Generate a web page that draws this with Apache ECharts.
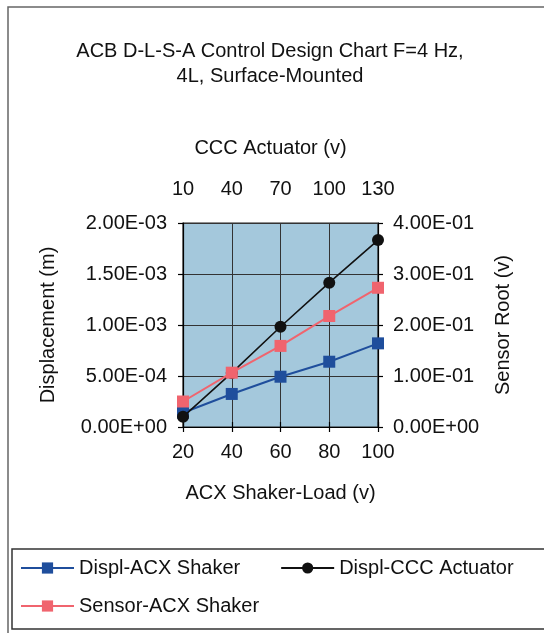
<!DOCTYPE html>
<html>
<head>
<meta charset="utf-8">
<script src="https://cdn.jsdelivr.net/npm/echarts@6/dist/echarts.min.js"></script>
<style>
html,body{margin:0;padding:0;background:#fff;}
#chart{width:544px;height:633px;}
</style>
</head>
<body>
<div id="chart"></div>
<script>
// Data
const acxVolts = [20, 40, 60, 80, 100];
const cccVolts = [10, 40, 70, 100, 130];
const displAcx = [1.4e-4, 3.24e-4, 4.93e-4, 6.4e-4, 8.2e-4];
const displCcc = [1.0e-4, 5.3e-4, 9.83e-4, 1.415e-3, 1.833e-3];
const sensorAcx = [0.05, 0.1065, 0.159, 0.2176, 0.273];
const seriesNames = ['Displ-ACX Shaker', 'Displ-CCC Actuator', 'Sensor-ACX Shaker'];

const FONT = 'Liberation Sans, Arial, sans-serif';
const FS = 20;

function sci(v) {
  const s = Number(v).toExponential(2);
  const parts = s.split('e');
  const m = parts[0];
  let e = parseInt(parts[1], 10);
  const sign = e < 0 ? '-' : '+';
  e = Math.abs(e);
  return m + 'E' + sign + (e < 10 ? '0' + e : '' + e);
}

const chart = echarts.init(document.getElementById('chart'), null, {renderer: 'canvas'});

const axisCommon = {
  axisLine: {show: true, lineStyle: {color: '#000', width: 1.2}},
  axisTick: {show: true, inside: false, length: 5, lineStyle: {color: '#000', width: 1.2}},
  axisLabel: {color: '#111', fontSize: FS, fontFamily: FONT},
  nameTextStyle: {color: '#111', fontSize: FS, fontFamily: FONT},
  nameLocation: 'middle'
};

const option = {
  animation: false,
  backgroundColor: '#fff',
  title: {
    text: 'ACB D-L-S-A Control Design Chart F=4 Hz,\n4L, Surface-Mounted',
    left: 265, top: 34, textAlign: 'center',
    textStyle: {fontSize: FS, fontWeight: 'normal', color: '#111', fontFamily: FONT, lineHeight: 25}
  },
  grid: {
    left: 183, top: 223, width: 195, height: 204,
    show: true, backgroundColor: '#a4c8dc', borderColor: '#222', borderWidth: 1.2
  },
  legend: [
    {
      data: [seriesNames[0], seriesNames[1]],
      left: 20, top: 558, padding: 0, itemWidth: 53, itemHeight: 14, itemGap: 40,
      textStyle: {fontSize: FS, fontFamily: FONT, color: '#111'}
    },
    {
      data: [seriesNames[2]],
      left: 20, top: 596, padding: 0, itemWidth: 53, itemHeight: 14,
      textStyle: {fontSize: FS, fontFamily: FONT, color: '#111'}
    }
  ],
  xAxis: [
    Object.assign({}, axisCommon, {
      type: 'value', position: 'bottom', min: 20, max: 100, interval: 20,
      name: 'ACX Shaker-Load (v)', nameGap: 56,
      axisLabel: Object.assign({}, axisCommon.axisLabel, {margin: 15}),
      splitLine: {show: true, lineStyle: {color: '#333', width: 1}}
    }),
    Object.assign({}, axisCommon, {
      type: 'value', position: 'top', min: 10, max: 130, interval: 30,
      name: 'CCC Actuator (v)', nameGap: 65,
      nameTextStyle: Object.assign({}, axisCommon.nameTextStyle, {padding: [0, 20, 0, 0]}),
      axisLabel: Object.assign({}, axisCommon.axisLabel, {margin: 24}),
      splitLine: {show: false}
    })
  ],
  yAxis: [
    Object.assign({}, axisCommon, {
      type: 'value', position: 'left', min: 0, max: 0.002, interval: 0.0005,
      name: 'Displacement (m)', nameGap: 125, nameRotate: 90,
      axisLabel: Object.assign({}, axisCommon.axisLabel, {margin: 16, formatter: sci}),
      splitLine: {show: true, lineStyle: {color: '#333', width: 1}}
    }),
    Object.assign({}, axisCommon, {
      type: 'value', position: 'right', min: 0, max: 0.4, interval: 0.1,
      name: 'Sensor Root (v)', nameGap: 115, nameRotate: 90,
      axisLabel: Object.assign({}, axisCommon.axisLabel, {margin: 15, formatter: sci}),
      splitLine: {show: false}
    })
  ],
  series: [
    {
      name: seriesNames[0], type: 'line', xAxisIndex: 0, yAxisIndex: 0,
      data: acxVolts.map((x, i) => [x, displAcx[i]]),
      symbol: 'rect', symbolSize: 12,
      lineStyle: {color: '#1f4e9c', width: 2}, itemStyle: {color: '#1f4e9c'}, z: 2
    },
    {
      name: seriesNames[1], type: 'line', xAxisIndex: 1, yAxisIndex: 0,
      data: cccVolts.map((x, i) => [x, displCcc[i]]),
      symbol: 'circle', symbolSize: 12,
      lineStyle: {color: '#111', width: 1.6}, itemStyle: {color: '#111'}, z: 3
    },
    {
      name: seriesNames[2], type: 'line', xAxisIndex: 0, yAxisIndex: 1,
      data: acxVolts.map((x, i) => [x, sensorAcx[i]]),
      symbol: 'rect', symbolSize: 12,
      lineStyle: {color: '#f0646e', width: 2}, itemStyle: {color: '#f0646e'}, z: 4
    }
  ],
  graphic: [
    {type: 'rect', shape: {x: 8, y: 7, width: 600, height: 700}, style: {fill: 'none', stroke: '#666', lineWidth: 1.5}, silent: true},
    {type: 'rect', shape: {x: 12, y: 549, width: 600, height: 80}, style: {fill: 'none', stroke: '#333', lineWidth: 1.5}, silent: true}
  ]
};
chart.setOption(option);
</script>
</body>
</html>
